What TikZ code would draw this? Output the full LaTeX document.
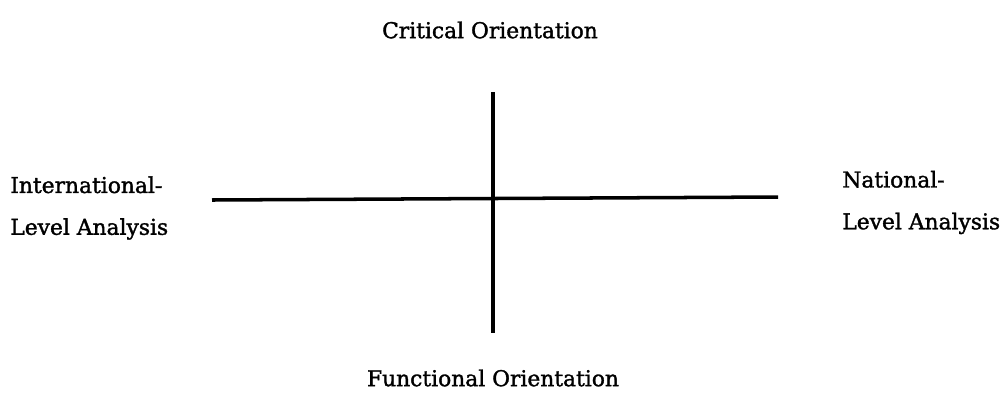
\documentclass[tikz,border=0pt]{standalone}
\usepackage{fontspec}
\setmainfont[FakeBold=1.5,AutoFakeBold=1.5]{DejaVu Serif}
\usepackage{tikz}
\usetikzlibrary{positioning}

\begin{document}
\begin{tikzpicture}[
    label/.style={font=\fontsize{12.4}{23.8}\selectfont\bfseries, inner sep=0pt, align=left},
    axis/.style={line width=2pt, color=black}
]
    \useasboundingbox (0,0) rectangle (20.06,-7.84);

    % Axis ends
    \coordinate (top) at (9.86,-1.84);
    \coordinate (bottom) at (9.86,-6.66);
    \coordinate (left) at (4.24,-4.0);
    \coordinate (right) at (15.56,-3.94);

    % Axes
    \draw[axis] (top) -- (bottom);
    \draw[axis] (left) -- (right);

    % Labels
    \node[label] (critical) at (9.8,-0.6) {Critical Orientation};
    \node[label] (functional) at (9.86,-7.56) {Functional Orientation};
    \node[label, anchor=west] (international) at (0.2,-4.16) {International-\\Level Analysis};
    \node[label, anchor=west] (national) at (16.84,-4.05) {National-\\Level Analysis};
\end{tikzpicture}
\end{document}
